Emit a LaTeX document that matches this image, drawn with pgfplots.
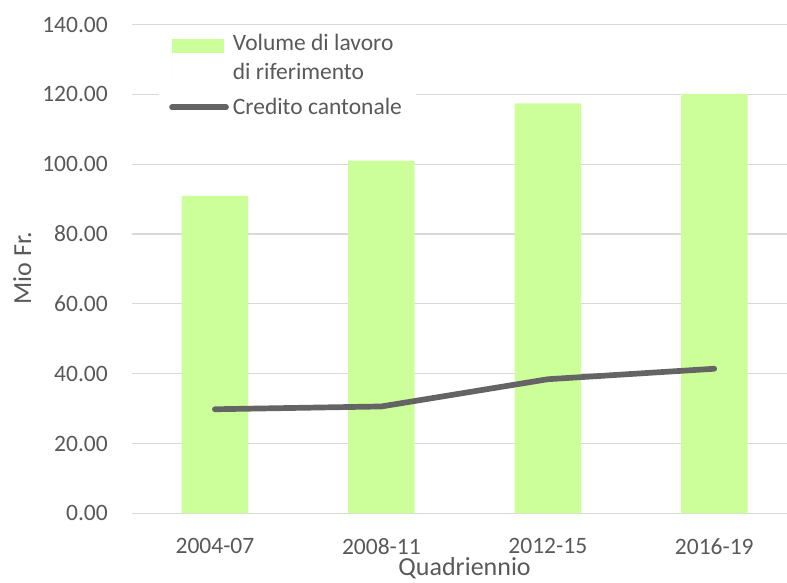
\documentclass[border=0pt]{standalone}
\usepackage{pgfplots}
\pgfplotsset{compat=1.18}
\usepackage{fontspec}
\setmainfont{Carlito}
\definecolor{txt}{HTML}{595959}
\definecolor{barg}{HTML}{CCFF99}
\definecolor{linec}{HTML}{646464}
\definecolor{gridc}{HTML}{D9D9D9}
\newcommand{\tickfont}{\fontsize{23.5bp}{29bp}\selectfont}
\newcommand{\titlefont}{\fontsize{26bp}{31bp}\selectfont}
\begin{document}
\begin{tikzpicture}
\useasboundingbox (0,0) rectangle (787bp,583bp);
\begin{axis}[
  at={(131.7bp,69.7bp)}, anchor=south west,
  scale only axis, width=665.8bp, height=488.8bp,
  xmin=-0.5, xmax=3.5, ymin=0, ymax=140,
  xtick={0,1,2,3}, xticklabels={2004-07,2008-11,2012-15,2016-19},
  ytick={0,20,40,60,80,100,120,140},
  ymajorgrids, grid style={gridc, line width=1.3bp},
  axis line style={draw=none},
  major tick length=0pt,
  tick label style={font=\tickfont, text=txt, inner sep=0pt},
  /pgf/number format/assume math mode=true,
  yticklabel style={anchor=east, xshift=-23.7bp, /pgf/number format/.cd, fixed, fixed zerofill, precision=2},
  xticklabel style={anchor=north, yshift=-24.8bp},
  xlabel={Quadriennio},
  ylabel={Mio Fr.},
  label style={font=\titlefont, text=txt, inner sep=0pt},
  xlabel style={at={(axis description cs:0.5,-0.128)}, anchor=base},
  ylabel style={at={(axis description cs:-0.1512,0.502)}, anchor=base, rotate=0},
  legend cell align=left,
  legend style={at={(axis description cs:0.041,0.986)}, anchor=north west,
    draw=none, fill=white, font=\tickfont, text=txt,
    inner xsep=10bp, inner ysep=2bp, row sep=15bp,
    nodes={align=left, inner xsep=4bp, inner ysep=1bp}},
]
\addplot[ybar, bar width=66.5bp, bar shift=0pt, fill=barg, draw=none,
  legend image code/.code={\path (0bp,-18.7bp) -- (0bp,18.7bp); \fill[barg] (0bp,5.3bp) rectangle (52bp,18.7bp);}]
  coordinates {(0,90.9) (1,101.0) (2,117.4) (3,120.1)};
\addlegendentry{Volume di lavoro\\di riferimento}
\addplot[linec, line width=5.7bp, line cap=round, line join=round, no marks,
  legend image code/.code={\draw[linec, line width=5.7bp, line cap=round] (0bp,0bp) -- (54bp,0bp);}]
  coordinates {(0,29.8) (1,30.6) (2,38.4) (3,41.4)};
\addlegendentry{Credito cantonale}
\end{axis}
\end{tikzpicture}
\end{document}
